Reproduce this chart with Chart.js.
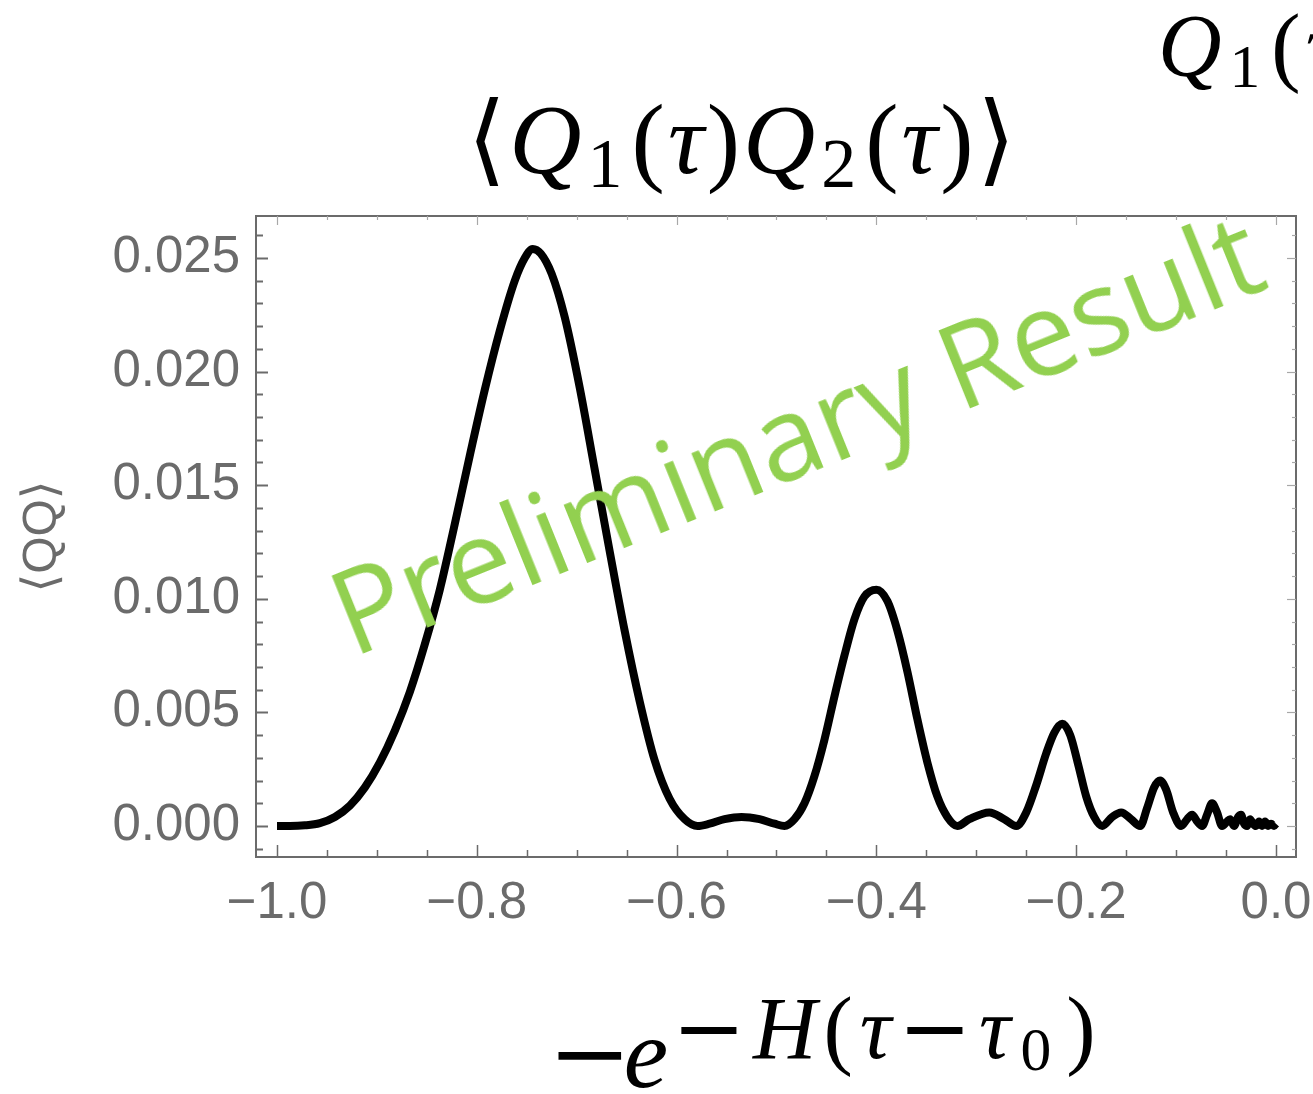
<!DOCTYPE html>
<html><head><meta charset="utf-8">
<script src="https://cdn.jsdelivr.net/npm/chart.js@4.4.1/dist/chart.umd.min.js"></script>
<style>
html,body{margin:0;padding:0;background:#fff;overflow:hidden;width:1313px;height:1094px;}
#wrap{position:relative;width:1313px;height:1094px;overflow:hidden;background:#fff;}
canvas{position:absolute;left:0;top:0;}
.m{position:absolute;font-family:"Liberation Serif","DejaVu Serif",serif;color:#000;white-space:nowrap;line-height:1;}
.m i{font-style:italic;}
.sub{font-size:0.7em;position:relative;top:0.2em;font-style:normal;margin-left:3px;margin-right:6px;}
.mi{font-family:"DejaVu Serif",serif;}
.sup{font-size:0.88em;position:relative;top:-0.33em;letter-spacing:7px;margin-left:4px;}
#wm{position:absolute;font-family:"Open Sans","Noto Sans",sans-serif;color:#92d050;font-size:117px;white-space:nowrap;line-height:1;transform-origin:50% 50%;}
</style></head>
<body><div id="wrap">
<canvas id="c" width="1313" height="1094"></canvas>
<div id="wm" style="left:795px;top:430px;transform:translate(-50%,-50%) rotate(-22deg);">Preliminary Result</div>
<div class="m" style="left:1158px;top:2px;font-size:88px;letter-spacing:5px;"><i>Q</i><span class="sub">1</span>(<i>τ</i>)<i>Q</i><span class="sub">2</span>(<i>τ</i>)⟩</div>
<div class="m" id="title" style="left:743px;top:89px;font-size:100px;letter-spacing:3px;transform:translateX(-50%);"><span class="mi">⟨</span><i>Q</i><span class="sub">1</span>(<i>τ</i>)<i>Q</i><span class="sub">2</span>(<i>τ</i>)<span class="mi">⟩</span></div>
<div class="m" id="xlab" style="left:548px;top:1003px;font-size:100px;"><span class="mi">−</span><i style="margin-left:-8px;">e</i><span class="sup"><span class="mi">−</span><i>H</i>(<i>τ</i><span class="mi">−</span><i>τ</i><span class="sub" style="margin-right:8px;">0</span>)</span></div>
</div>
<script>
// ---- data ----
const xValues = [-1.000,-0.987,-0.972,-0.957,-0.942,-0.927,-0.912,-0.897,-0.882,-0.867,-0.852,-0.837,-0.822,-0.807,-0.792,-0.777,-0.762,-0.752,-0.744,-0.736,-0.725,-0.712,-0.697,-0.682,-0.667,-0.652,-0.637,-0.622,-0.607,-0.592,-0.579,-0.567,-0.552,-0.535,-0.517,-0.502,-0.492,-0.482,-0.472,-0.462,-0.452,-0.442,-0.432,-0.422,-0.412,-0.400,-0.389,-0.379,-0.369,-0.359,-0.349,-0.339,-0.329,-0.319,-0.307,-0.287,-0.272,-0.260,-0.250,-0.240,-0.230,-0.222,-0.214,-0.206,-0.198,-0.190,-0.182,-0.174,-0.164,-0.155,-0.145,-0.136,-0.129,-0.122,-0.116,-0.110,-0.103,-0.095,-0.089,-0.084,-0.079,-0.074,-0.069,-0.064,-0.059,-0.054,-0.049,-0.046,-0.042,-0.038,-0.035,-0.032,-0.029,-0.026,-0.023,-0.020,-0.017,-0.014,-0.011,-0.008,-0.005,-0.002,0.000];
const qqValues = [0,0,0.00003,0.00013,0.0004,0.0009,0.0017,0.0028,0.0042,0.0059,0.0080,0.0104,0.0133,0.0163,0.0192,0.0218,0.0240,0.0250,0.0254,0.0252,0.0243,0.0224,0.0193,0.0157,0.0121,0.0086,0.0055,0.0029,0.0012,0.0003,0.0,0.0001,0.0003,0.0004,0.0003,0.0001,0.0,0.0003,0.0010,0.0022,0.0038,0.0057,0.0075,0.0091,0.0101,0.0104,0.0099,0.0086,0.0068,0.0047,0.0028,0.0013,0.0004,0.0,0.0003,0.0006,0.0003,0.0,0.0006,0.0018,0.0032,0.0041,0.0045,0.0040,0.0027,0.0013,0.0004,0.0,0.0004,0.0006,0.0003,0.0,0.0008,0.0017,0.0020,0.0016,0.0006,0.0,0.0003,0.0005,0.0002,0.0,0.0005,0.0010,0.0006,0.0,0.0002,0.0003,0.0,0.0004,0.0005,0.0001,0.0,0.0003,0.0001,0.0,0.0002,0.0,0.0002,0.0,0.0001,0.0,0.0001];
const xMajorTicks = [-1.0,-0.8,-0.6,-0.4,-0.2,0.0];
const xTickLabels = ['−1.0','−0.8','−0.6','−0.4','−0.2','0.0'];
const yMajorTicks = [0.000,0.005,0.010,0.015,0.020,0.025];
const yTickLabels = ['0.000','0.005','0.010','0.015','0.020','0.025'];
const xMinorStep = 0.05, yMinorStep = 0.001;
const xRange = [-1.021, 0.020];
const yRange = [-0.001364, 0.026849];
const yTitle = '⟨QQ⟩';

function stepTicks(lo, hi, step){
  const out=[]; const a=Math.ceil(lo/step-1e-9), b=Math.floor(hi/step+1e-9);
  for(let i=a;i<=b;i++) out.push({value: +(i*step).toFixed(6)});
  return out;
}
function majorIndex(list, v){
  for(let i=0;i<list.length;i++) if(Math.abs(list[i]-v)<1e-7) return i;
  return -1;
}
const axisColor = '#6b6b6b';
const innerTicks = {
  id:'innerTicks',
  beforeDatasetsDraw(chart){
    const {ctx, chartArea:a, scales:{x,y}} = chart;
    ctx.save();
    ctx.lineCap='butt';
    const seg=(x1,y1,x2,y2,c,w)=>{ctx.strokeStyle=c;ctx.lineWidth=w;ctx.beginPath();ctx.moveTo(x1,y1);ctx.lineTo(x2,y2);ctx.stroke();};
    x.ticks.forEach(t=>{
      const px=Math.round(x.getPixelForValue(t.value))+0.5;
      const maj=majorIndex(xMajorTicks,t.value)>=0;
      seg(px,a.bottom,px,a.bottom-(maj?12:7),axisColor,1.5);
      seg(px,a.top,px,a.top+(maj?9:4),'#a8a8a8',1.2);
    });
    y.ticks.forEach(t=>{
      const py=Math.round(y.getPixelForValue(t.value))+0.5;
      const maj=majorIndex(yMajorTicks,t.value)>=0;
      seg(a.left,py,a.left+(maj?12:7),py,axisColor,2);
      seg(a.right,py,a.right-(maj?9:4),py,'#a8a8a8',1.2);
    });
    ctx.restore();
  }
};
const tickFont = {family:"'Liberation Sans','Arial',sans-serif", size:51};
new Chart(document.getElementById('c'), {
  type:'line',
  data:{datasets:[{
    data: xValues.map((x,i)=>({x:x, y:qqValues[i]})),
    borderColor:'#000', borderWidth:8, pointRadius:0, fill:false,
    cubicInterpolationMode:'monotone', borderCapStyle:'butt', borderJoinStyle:'round'
  }]},
  options:{
    responsive:false, animation:false, devicePixelRatio:1,
    layout:{padding:{left:0,top:216,right:17,bottom:0}},
    plugins:{legend:{display:false}, tooltip:{enabled:false}},
    scales:{
      x:{type:'linear', position:'bottom', min:xRange[0], max:xRange[1],
        afterBuildTicks:s=>{s.ticks=stepTicks(-1.0,0.0,xMinorStep);},
        ticks:{autoSkip:false, maxRotation:0, minRotation:0, padding:16, color:axisColor, font:tickFont,
          callback:(v)=>{const i=majorIndex(xMajorTicks,v);return i>=0?xTickLabels[i]:'';}},
        grid:{display:false, drawTicks:false},
        border:{display:true, color:axisColor, width:2},
        afterFit:s=>{s.height=237; s.paddingLeft=0; s.paddingRight=0;}
      },
      x2:{type:'linear', position:'top', display:true, min:xRange[0], max:xRange[1],
        ticks:{display:false}, grid:{display:false, drawTicks:false},
        border:{display:true, color:axisColor, width:2},
        afterFit:s=>{s.height=0; s.paddingLeft=0; s.paddingRight=0;}
      },
      y:{type:'linear', position:'left', min:yRange[0], max:yRange[1],
        afterBuildTicks:s=>{s.ticks=stepTicks(-0.001,0.026,yMinorStep);},
        ticks:{autoSkip:false, padding:16, color:axisColor, font:tickFont,
          callback:(v)=>{const i=majorIndex(yMajorTicks,v);return i>=0?yTickLabels[i]:'';}},
        grid:{display:false, drawTicks:false},
        border:{display:true, color:axisColor, width:2},
        title:{display:true, text:yTitle, color:axisColor, font:{family:"'Liberation Sans','DejaVu Sans',sans-serif", size:48}, padding:{top:14,bottom:0}},
        afterFit:s=>{s.width=256; s.paddingTop=0; s.paddingBottom=0;}
      },
      y2:{type:'linear', position:'right', display:true, min:yRange[0], max:yRange[1],
        ticks:{display:false}, grid:{display:false, drawTicks:false},
        border:{display:true, color:axisColor, width:2},
        afterFit:s=>{s.width=0; s.paddingTop=0; s.paddingBottom=0;}
      }
    }
  },
  plugins:[innerTicks]
});
</script>
</body></html>
